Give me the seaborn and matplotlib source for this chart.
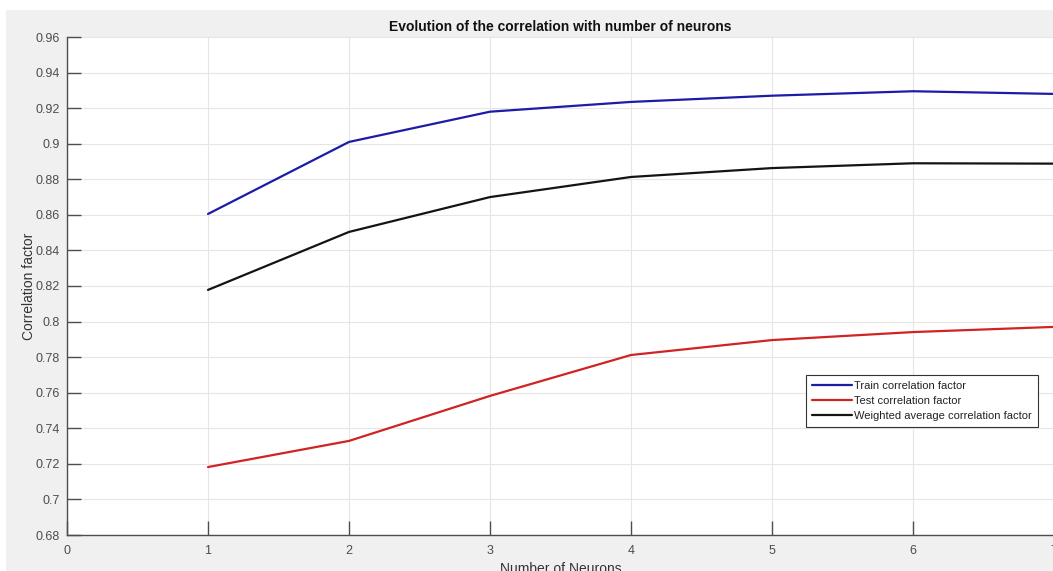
import matplotlib
matplotlib.use("Agg")
import matplotlib.pyplot as plt
import seaborn as sns
import pandas as pd

neurons = [1, 2, 3, 4, 5, 6, 7]
train_corr = [0.8605, 0.901, 0.918, 0.9235, 0.927, 0.9295, 0.928]
test_corr = [0.7182, 0.7329, 0.7582, 0.7812, 0.7896, 0.7941, 0.797]
weighted_corr = [0.8178, 0.8504, 0.870, 0.8813, 0.8863, 0.889, 0.8888]
series_names = ["Train correlation factor", "Test correlation factor",
                "Weighted average correlation factor"]
series_colors = ["#1c1ca6", "#d02424", "#141414"]
yticks = [0.68, 0.70, 0.72, 0.74, 0.76, 0.78, 0.80, 0.82, 0.84, 0.86, 0.88, 0.90, 0.92, 0.94, 0.96]
ytick_labels = ["0.68", "0.7", "0.72", "0.74", "0.76", "0.78", "0.8", "0.82", "0.84",
                "0.86", "0.88", "0.9", "0.92", "0.94", "0.96"]
xticks = [0, 1, 2, 3, 4, 5, 6, 7]

rows = []
for name, vals in zip(series_names, [train_corr, test_corr, weighted_corr]):
    for n, v in zip(neurons, vals):
        rows.append({"Neurons": n, "Correlation": v, "Series": name})
df = pd.DataFrame(rows)

sns.set_theme(style="whitegrid")
plt.rcParams["font.family"] = ["Liberation Sans", "DejaVu Sans"]

fig = plt.figure(figsize=(10.53, 5.71), dpi=100)
fig.patch.set_facecolor("white")
# gray MATLAB figure background
bg = fig.add_axes([6 / 1053, 0, 1 - 6 / 1053, 1 - 10 / 571])
bg.set_facecolor("#f0f0f0")
bg.set_xticks([]); bg.set_yticks([])
for s in bg.spines.values():
    s.set_visible(False)
bg.grid(False)
bg.set_zorder(0)

ax = fig.add_axes([67 / 1053, 1 - 535 / 571, (1054 - 67) / 1053, (535 - 37) / 571])
ax.set_zorder(1)
ax.set_facecolor("white")

sns.lineplot(data=df, x="Neurons", y="Correlation", hue="Series",
             palette=dict(zip(series_names, series_colors)), hue_order=series_names,
             linewidth=1.6, ax=ax, legend=True)

ax.set_xlim(0, 7)
ax.set_ylim(0.68, 0.96)
ax.set_xticks(xticks)
ax.set_yticks(yticks)
ax.set_yticklabels(ytick_labels)
ax.tick_params(axis="both", which="major", direction="in", length=10, width=1,
               color="#4d4d4d", labelsize=9, labelcolor="#4d4d4d", pad=5,
               bottom=True, left=True, top=False, right=False)
ax.tick_params(axis="x", pad=7)
ax.grid(True, color="#e6e6e6", linewidth=0.8)
for side in ["top", "right"]:
    ax.spines[side].set_visible(False)
for side in ["left", "bottom"]:
    ax.spines[side].set_color("#4d4d4d")
    ax.spines[side].set_linewidth(1.0)

ax.set_title("Evolution of the correlation with number of neurons", fontsize=10,
             fontweight="bold", color="#111111", pad=4)
ax.set_xlabel("Number of Neurons", fontsize=10, color="#333333", labelpad=4)
ax.set_ylabel("Correlation factor", fontsize=10, color="#333333", labelpad=0)

leg = ax.legend(loc="upper left", bbox_to_anchor=((806 - 67) / 987, 1 - (375 - 37) / 498),
                fontsize=8, frameon=True, fancybox=False, framealpha=1,
                edgecolor="#333333", handlelength=3.6, handletextpad=0.2,
                labelspacing=0.45, borderpad=0.55, borderaxespad=0)
leg.get_frame().set_linewidth(0.8)
for t in leg.get_texts():
    t.set_color("#222222")

fig.savefig("out.png", dpi=100, facecolor=fig.get_facecolor())
